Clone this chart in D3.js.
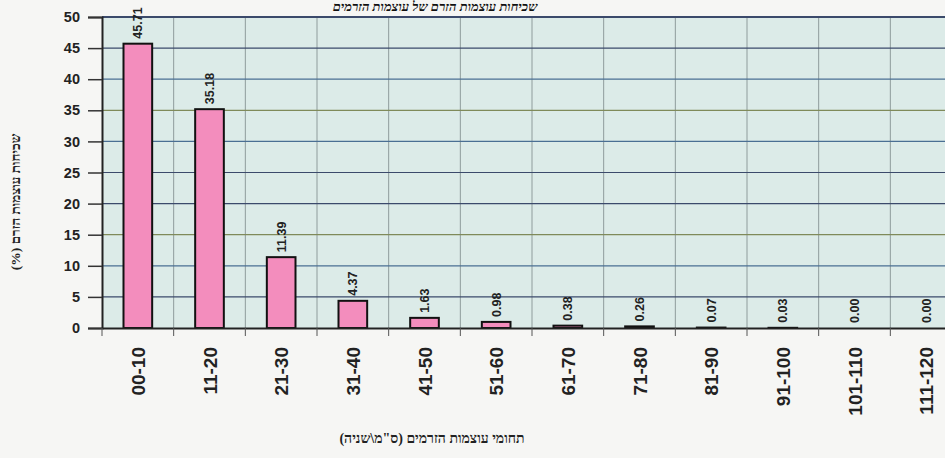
<!DOCTYPE html>
<html><head><meta charset="utf-8">
<script src="https://cdn.jsdelivr.net/npm/d3@7"></script>
<style>body{margin:0;background:#f6f6f4;}svg{display:block;}</style>
</head><body>
<script>
const categories = ["00-10","11-20","21-30","31-40","41-50","51-60","61-70","71-80","81-90","91-100","101-110","111-120"];
const values = [45.71,35.18,11.39,4.37,1.63,0.98,0.38,0.26,0.07,0.03,0.00,0.00];
const yTicks = [0,5,10,15,20,25,30,35,40,45,50];
const title = "שכיחות עוצמות הזרם של עוצמות הזרמים";
const yTitle = "שכיחות עוצמות הזרם (%)";
const xTitle = "תחומי עוצמות הזרמים (ס\"מ\\שניה)";

(function () {
const W = 945, H = 458;
const svg = d3.select("body").append("svg").attr("width", W).attr("height", H);
const pL = 102, pR = 962, pT = 17, pB = 328;
const sans = "Liberation Sans, Arial, sans-serif";
const serif = "Liberation Serif, DejaVu Serif, serif";

const x = d3.scaleBand().domain(categories).range([pL, pR]).paddingInner(0.6).paddingOuter(0.3);
const xg = d3.scaleBand().domain(categories).range([pL, pR]);
const y = d3.scaleLinear().domain([0, 50]).range([pB, pT]);

svg.append("rect").attr("x", pL).attr("y", pT).attr("width", pR - pL).attr("height", pB - pT)
  .attr("fill", "#dcebe8");

svg.append("g").selectAll("line").data(categories.slice(1)).join("line")
  .attr("x1", d => xg(d)).attr("x2", d => xg(d)).attr("y1", pT).attr("y2", pB)
  .attr("stroke", "#8f9c9c").attr("stroke-width", 1);

const gridColors = ["#3b4a6b","#4a6f93","#7f8a5a","#3b4a6b","#3b4a6b","#4a6f93","#7f8a5a","#4a6f93","#3b4a6b","#3b4a6b"];
svg.append("g").selectAll("line").data(yTicks.slice(1)).join("line")
  .attr("x1", pL).attr("x2", pR).attr("y1", d => y(d)).attr("y2", d => y(d))
  .attr("stroke", (d, i) => gridColors[i % gridColors.length]).attr("stroke-width", d => d === 50 ? 2 : 1.2);

svg.append("g").selectAll("rect").data(values).join("rect")
  .attr("x", (d, i) => x(categories[i])).attr("width", x.bandwidth())
  .attr("y", d => y(d)).attr("height", d => y(0) - y(d))
  .attr("fill", "#f38dbd").attr("stroke", "#111").attr("stroke-width", 2);

svg.append("g").selectAll("text").data(values).join("text")
  .attr("transform", (d, i) => `translate(${x(categories[i]) + x.bandwidth() / 2 + 4.5},${y(d) - 5}) rotate(-90)`)
  .attr("font-family", sans).attr("font-size", 12.5).attr("font-weight", "bold")
  .attr("fill", "#222").text(d => d.toFixed(2));

const yAxis = svg.append("g").attr("transform", `translate(${pL},0)`)
  .call(d3.axisLeft(y).tickValues(yTicks).tickSize(14).tickPadding(8));
yAxis.select(".domain").attr("stroke", "#222").attr("stroke-width", 2);
yAxis.selectAll(".tick line").attr("stroke", "#333").attr("stroke-width", 1.5);
yAxis.selectAll("text").attr("font-family", sans).attr("font-size", 14.5)
  .attr("font-weight", "bold").attr("fill", "#222");

const xAxis = svg.append("g").attr("transform", `translate(0,${pB})`)
  .call(d3.axisBottom(xg).tickSize(0).tickFormat(""));
xAxis.select(".domain").attr("stroke", "#222").attr("stroke-width", 2);
svg.append("g").selectAll("line").data(categories).join("line")
  .attr("x1", d => xg(d)).attr("x2", d => xg(d)).attr("y1", pB).attr("y2", pB + 8)
  .attr("stroke", "#555").attr("stroke-width", 1);
svg.append("g").selectAll("text").data(categories).join("text")
  .attr("transform", d => `translate(${x(d) + x.bandwidth() / 2 + 7},${pB + 19}) rotate(-90)`)
  .attr("text-anchor", "end")
  .attr("font-family", sans).attr("font-size", 19).attr("font-weight", "bold")
  .attr("fill", "#222").text(d => d);

svg.append("text").attr("x", 435).attr("y", 11).attr("text-anchor", "middle").attr("direction", "rtl")
  .attr("font-family", serif).attr("font-size", 13).attr("font-weight", "bold")
  .attr("font-style", "italic").attr("fill", "#111").text(title);
svg.append("text").attr("transform", `translate(20,202) rotate(-90)`)
  .attr("text-anchor", "middle").attr("direction", "rtl")
  .attr("font-family", serif).attr("font-size", 13.5).attr("font-weight", "bold")
  .attr("fill", "#222").text(yTitle);
svg.append("text").attr("x", 432).attr("y", 443).attr("text-anchor", "middle").attr("direction", "rtl")
  .attr("font-family", serif).attr("font-size", 14).attr("font-weight", "bold")
  .attr("fill", "#222").text(xTitle);
})();
</script>
</body></html>
